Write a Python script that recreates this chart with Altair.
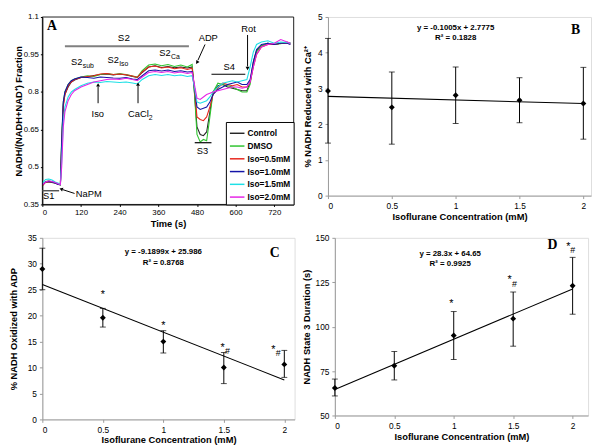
import altair as alt
import pandas as pd

FONT = "Liberation Sans"
SERIF = "Liberation Serif"

# ---------------- Panel A data ----------------
time_s = [0, 10, 20, 30, 40, 50, 56, 60, 65, 70, 80, 90, 100, 120, 140, 160, 180, 200, 220, 240,
          260, 280, 295, 310, 330, 350, 370, 390, 410, 430, 450, 465, 472, 480, 490, 500, 510, 520,
          530, 545, 560, 575, 590, 605, 620, 635, 645, 655, 665, 680, 700, 720, 740, 760, 770]
control = [0.425, 0.44, 0.44, 0.438, 0.435, 0.43, 0.428, 0.60, 0.75, 0.79, 0.82, 0.84, 0.848,
           0.858, 0.86, 0.866, 0.87, 0.872, 0.868, 0.872, 0.868, 0.862, 0.858, 0.878,
           0.90, 0.905, 0.898, 0.902, 0.897, 0.90, 0.896, 0.90, 0.80, 0.66, 0.63, 0.625, 0.64, 0.72, 0.80,
           0.825, 0.83, 0.82, 0.815, 0.81, 0.805, 0.805, 0.84, 0.92, 0.965,
           0.985, 0.995, 0.99, 0.995, 0.998, 0.995]
dmso = [0.43, 0.442, 0.445, 0.44, 0.437, 0.432, 0.43, 0.62, 0.76, 0.80, 0.83, 0.845, 0.852,
        0.86, 0.865, 0.862, 0.87, 0.874, 0.87, 0.873, 0.87, 0.864, 0.86, 0.885,
        0.908, 0.912, 0.905, 0.91, 0.902, 0.908, 0.90, 0.91, 0.80, 0.63, 0.60, 0.61, 0.605, 0.70, 0.80,
        0.835, 0.83, 0.825, 0.82, 0.81, 0.80, 0.80, 0.83, 0.91, 0.96,
        0.985, 0.995, 0.99, 0.993, 1.0, 0.995]
iso05 = [0.425, 0.438, 0.44, 0.44, 0.437, 0.432, 0.43, 0.58, 0.74, 0.79, 0.825, 0.84, 0.85,
         0.858, 0.862, 0.865, 0.872, 0.874, 0.87, 0.872, 0.869, 0.864, 0.858, 0.88,
         0.90, 0.904, 0.896, 0.90, 0.893, 0.897, 0.89, 0.895, 0.82, 0.70, 0.69, 0.685, 0.70, 0.74, 0.79,
         0.815, 0.835, 0.83, 0.825, 0.83, 0.82, 0.82, 0.84, 0.90, 0.95,
         0.98, 0.99, 0.99, 0.995, 0.995, 0.992]
iso10 = [0.43, 0.44, 0.442, 0.44, 0.436, 0.43, 0.43, 0.60, 0.76, 0.80, 0.83, 0.845, 0.852,
         0.86, 0.858, 0.855, 0.86, 0.858, 0.856, 0.855, 0.858, 0.852, 0.85, 0.865,
         0.885, 0.888, 0.884, 0.888, 0.882, 0.885, 0.88, 0.882, 0.82, 0.74, 0.73, 0.735, 0.74, 0.76, 0.79,
         0.81, 0.82, 0.83, 0.835, 0.84, 0.83, 0.83, 0.85, 0.92, 0.97,
         0.99, 0.995, 0.99, 0.995, 0.995, 0.99]
iso15 = [0.435, 0.45, 0.452, 0.448, 0.44, 0.435, 0.43, 0.52, 0.68, 0.74, 0.78, 0.80, 0.81,
         0.825, 0.835, 0.84, 0.838, 0.842, 0.84, 0.838, 0.84, 0.836, 0.832, 0.85,
         0.865, 0.87, 0.866, 0.87, 0.865, 0.868, 0.862, 0.865, 0.82, 0.76, 0.755, 0.76, 0.765, 0.78, 0.80,
         0.82, 0.835, 0.84, 0.845, 0.84, 0.845, 0.85, 0.90, 0.96, 0.99,
         1.0, 1.005, 0.995, 1.0, 0.998, 0.995]
iso20 = [0.43, 0.44, 0.445, 0.442, 0.438, 0.432, 0.43, 0.50, 0.66, 0.72, 0.765, 0.79, 0.805,
         0.82, 0.83, 0.84, 0.845, 0.85, 0.852, 0.85, 0.855, 0.85, 0.845, 0.86,
         0.878, 0.882, 0.878, 0.882, 0.876, 0.88, 0.874, 0.878, 0.83, 0.775, 0.77, 0.78, 0.79, 0.795, 0.80,
         0.805, 0.81, 0.815, 0.82, 0.82, 0.815, 0.82, 0.84, 0.90, 0.95,
         0.98, 0.99, 0.995, 1.01, 1.0, 0.995]
series_names = ["Control", "DMSO", "Iso=0.5mM", "Iso=1.0mM", "Iso=1.5mM", "Iso=2.0mM"]
series_colors = ["#262626", "#2ec42e", "#e8251c", "#1414a8", "#1ee0e6", "#e624e6"]
a_x_ticks = [0, 120, 240, 360, 480, 600, 720]
a_y_ticks = [0.35, 0.5, 0.65, 0.8, 0.95, 1.1]

# ---------------- Panels B, C, D data ----------------
conc = [0, 0.5, 1, 1.5, 2]
b_mean = [2.93, 2.47, 2.81, 2.67, 2.58]
b_low = [1.47, 1.44, 2.02, 2.04, 1.58]
b_high = [4.40, 3.46, 3.60, 3.30, 3.59]
c_mean = [29.0, 19.6, 15.0, 10.0, 10.6]
c_low = [25.0, 17.8, 12.8, 6.9, 8.1]
c_high = [33.0, 21.4, 17.1, 12.9, 13.3]
d_mean = [65.5, 78.0, 95.0, 104.5, 123.0]
d_low = [61.0, 70.0, 81.5, 89.0, 107.0]
d_high = [70.5, 86.0, 108.5, 119.5, 139.0]
fit_x = [0, 2]
b_fit = [2.7775, 2.5765]
c_fit = [25.986, 7.606]
d_fit = [64.65, 121.25]

one = pd.DataFrame({"k": [0]})


def txt(x, y, s, size=9.5, weight="normal", font=FONT, align="center", baseline="middle", dx=0, dy=0):
    return alt.Chart(one).mark_text(text=s, font=font, fontSize=size, fontWeight=weight, align=align,
                                    baseline=baseline, dx=dx, dy=dy, color="black").encode(
        x=alt.datum(x), y=alt.datum(y))


def seg(x1, y1, x2, y2, color="black", width=1.0):
    return alt.Chart(one).mark_rule(color=color, strokeWidth=width).encode(
        x=alt.datum(x1), y=alt.datum(y1), x2=alt.datum(x2), y2=alt.datum(y2))


def head(x, y, angle):
    return alt.Chart(one).mark_point(shape="triangle", filled=True, size=16, angle=angle,
                                     color="black", opacity=1).encode(x=alt.datum(x), y=alt.datum(y))


# ---------------- Panel A ----------------
rowsA = []
for name, vals in zip(series_names, [control, dmso, iso05, iso10, iso15, iso20]):
    for t, v in zip(time_s, vals):
        rowsA.append({"t": t, "v": v, "s": name})
dfA = pd.DataFrame(rowsA)

WA, HA = 256, 191
axA_common = dict(labelFont=FONT, labelFontSize=8, labelColor="black", titleFont=FONT,
                  titleFontSize=9.5, titleFontWeight="bold", titleColor="black",
                  domainColor="black", tickColor="black", tickSize=2, grid=False, labelPadding=2,
                  labelOverlap=False, tickCount=20)
linesA = alt.Chart(dfA).mark_line(strokeWidth=1.1).encode(
    x=alt.X("t:Q", scale=alt.Scale(domain=[0, 780], nice=False, zero=False),
            axis=alt.Axis(values=a_x_ticks, title="Time (s)", titlePadding=1,
                          minExtent=13, maxExtent=13, **axA_common)),
    y=alt.Y("v:Q", scale=alt.Scale(domain=[0.35, 1.1], nice=False, zero=False),
            axis=alt.Axis(values=a_y_ticks, format=".2~f", title="NADH/(NADH+NAD⁺) Fraction",
                          titlePadding=1, minExtent=18, maxExtent=18, **axA_common)),
    color=alt.Color("s:N", scale=alt.Scale(domain=series_names, range=series_colors),
                    legend=alt.Legend(title=None, orient="bottom-right", offset=0, fillColor="white",
                                      strokeColor="black", padding=3, symbolType="stroke",
                                      symbolStrokeWidth=1.5, symbolSize=220, labelFont=FONT,
                                      labelFontSize=8.5, labelFontWeight="bold", labelColor="black",
                                      rowPadding=0, labelOffset=2)),
)
frameA = alt.Chart(one).mark_rect(filled=False, stroke="black", strokeWidth=0.8).encode(
    x=alt.value(0), x2=alt.value(WA), y=alt.value(0), y2=alt.value(HA))

annA = [
    txt(30, 1.062, "A", size=14, weight="bold", font=SERIF),
    seg(0, 0.405, 52, 0.405, color="#555555", width=1.5),
    txt(20, 0.383, "S1"),
    txt(104, 0.39, "NaPM", align="left"),
    seg(100, 0.394, 64, 0.409), head(60, 0.411, 290),
    seg(70, 0.983, 455, 0.983, color="#808080", width=2),
    txt(253, 1.016, "S2", size=10),
    txt(89, 0.92, "S2", align="left"), txt(89, 0.92, "sub", size=7, align="left", dx=12, dy=4),
    txt(202, 0.926, "S2", align="left"), txt(202, 0.926, "Iso", size=7, align="left", dx=12, dy=4),
    txt(363, 0.954, "S2", align="left"), txt(363, 0.954, "Ca", size=7, align="left", dx=12, dy=4),
    txt(172, 0.713, "Iso"), seg(173, 0.755, 173, 0.822), head(173, 0.826, 0),
    txt(266, 0.713, "CaCl", align="left"), txt(266, 0.713, "2", size=7, align="left", dx=21, dy=4),
    seg(297, 0.755, 297, 0.825), head(297, 0.829, 0),
    txt(515, 1.016, "ADP"), seg(505, 0.99, 483, 0.927), head(481, 0.92, 213),
    txt(497, 0.565, "S3"), seg(473, 0.597, 525, 0.597, width=1.2),
    txt(580, 0.898, "S4"), seg(525, 0.871, 630, 0.871, width=1.2),
    txt(640, 1.05, "Rot"), seg(637, 1.028, 637, 0.902), head(637, 0.896, 180),
]
panelA = alt.layer(linesA, frameA, *annA).properties(width=WA, height=HA)


# ---------------- Panels B, C, D ----------------
def stat_panel(mean, low, high, fit, ydomain, yticks, ytitle, W, H, xmax, yext, extra):
    df = pd.DataFrame({"c": conc, "m": mean, "lo": low, "hi": high})
    fdf = pd.DataFrame({"c": fit_x, "m": fit})
    xs = alt.Scale(domain=[0, xmax], nice=False, zero=False)
    ys = alt.Scale(domain=ydomain, nice=False, zero=False)
    common = dict(labelFont=FONT, labelFontSize=8.5, labelColor="black", titleFont=FONT,
                  titleFontSize=9.5, titleFontWeight="bold", titleColor="black",
                  domainColor="#9a9a9a", tickColor="#9a9a9a", tickSize=3, grid=False, labelPadding=3,
                  labelOverlap=False, tickCount=20)
    xax = alt.Axis(values=conc, format=".1~f", title="Isoflurane Concentration (mM)", titlePadding=1,
                   minExtent=15, maxExtent=15, **common)
    yax = alt.Axis(values=yticks, format="d", title=ytitle, titlePadding=4,
                   minExtent=yext, maxExtent=yext, **common)

    def X():
        return alt.X("c:Q", scale=xs, axis=xax)

    def Y(f):
        return alt.Y(f + ":Q", scale=ys, axis=yax)

    bars = alt.Chart(df).mark_rule(color="black", strokeWidth=1).encode(x=X(), y=Y("lo"), y2="hi:Q")
    cap_lo = alt.Chart(df).mark_tick(orient="horizontal", size=6, thickness=1, color="black").encode(x=X(), y=Y("lo"))
    cap_hi = alt.Chart(df).mark_tick(orient="horizontal", size=6, thickness=1, color="black").encode(x=X(), y=Y("hi"))
    fitl = alt.Chart(fdf).mark_line(color="black", strokeWidth=1.1).encode(x=X(), y=Y("m"))
    pts = alt.Chart(df).mark_point(shape="diamond", filled=True, size=36, color="black", opacity=1).encode(x=X(), y=Y("m"))
    return alt.layer(bars, cap_lo, cap_hi, fitl, pts, *extra).properties(width=W, height=H)


panelB = stat_panel(b_mean, b_low, b_high, b_fit, [0, 5], [0, 1, 2, 3, 4, 5],
                    "% NADH Reduced with Ca²⁺", 268, 182, 2.06, 12, [
                        txt(1.0, 4.70, "y = -0.1005x + 2.7775", size=8, weight="bold"),
                        txt(1.0, 4.40, "R² = 0.1828", size=8, weight="bold"),
                        txt(1.94, 4.62, "B", size=14, weight="bold", font=SERIF),
                    ])

panelC = stat_panel(c_mean, c_low, c_high, c_fit, [0, 35], [0, 5, 10, 15, 20, 25, 30, 35],
                    "% NADH Oxidized with ADP", 257, 185, 2.085, 20, [
                        txt(1.0, 32.3, "y = -9.1899x + 25.986", size=8, weight="bold"),
                        txt(1.0, 30.2, "R² = 0.8768", size=8, weight="bold"),
                        txt(1.92, 32.0, "C", size=14, weight="bold", font=SERIF),
                        txt(0.5, 24.0, "*", size=11),
                        txt(1.0, 18.0, "*", size=11),
                        txt(1.49, 13.8, "*", size=11), txt(1.53, 13.2, "#", size=9),
                        txt(1.91, 13.4, "*", size=11), txt(1.95, 12.7, "#", size=9),
                    ])

panelD = stat_panel(d_mean, d_low, d_high, d_fit, [50, 150], [50, 75, 100, 125, 150],
                    "NADH State 3 Duration (s)", 258, 181, 2.13, 20, [
                        txt(0.97, 141, "y = 28.3x + 64.65", size=8, weight="bold"),
                        txt(0.97, 135.4, "R² = 0.9925", size=8, weight="bold"),
                        txt(1.83, 146, "D", size=14, weight="bold", font=SERIF),
                        txt(0.98, 112.5, "*", size=11),
                        txt(1.47, 126, "*", size=11), txt(1.51, 124, "#", size=9),
                        txt(1.965, 145, "*", size=11), txt(2.0, 143.3, "#", size=9),
                    ])

top = alt.hconcat(panelA, panelB, spacing=7).resolve_scale(color="independent").resolve_legend(
    color="independent")
bottom = alt.hconcat(panelC, panelD, spacing=5)
chart = alt.vconcat(top, bottom, spacing=5).resolve_scale(color="independent").resolve_legend(
    color="independent").properties(padding=0).configure_view(
    strokeWidth=0).configure(font=FONT, background="white")

chart.save("out.html", embed_options={"renderer": "svg", "actions": False})
